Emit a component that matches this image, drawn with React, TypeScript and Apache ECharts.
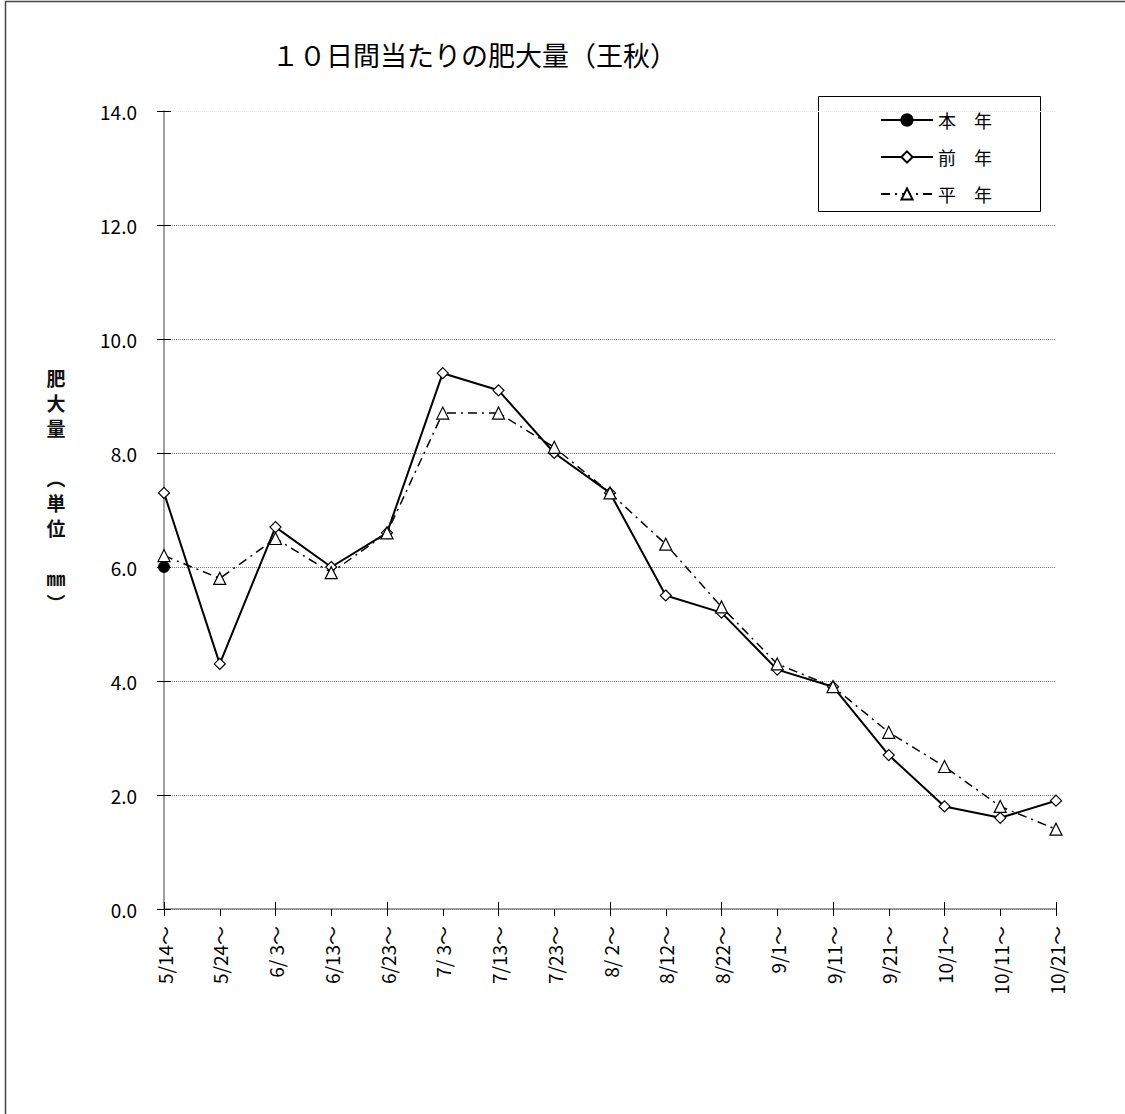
import React, { useEffect, useRef } from "react";
import * as echarts from "echarts";

const categories = [
  "5/14～", "5/24～", "6/ 3～", "6/13～", "6/23～", "7/ 3～", "7/13～", "7/23～",
  "8/ 2～", "8/12～", "8/22～", "9/1～", "9/11～", "9/21～", "10/1～", "10/11～", "10/21～",
];
const thisYear = [6.0];
const lastYear = [7.3, 4.3, 6.7, 6.0, 6.6, 9.4, 9.1, 8.0, 7.3, 5.5, 5.2, 4.2, 3.9, 2.7, 1.8, 1.6, 1.9];
const normalYear = [6.2, 5.8, 6.5, 5.9, 6.6, 8.7, 8.7, 8.1, 7.3, 6.4, 5.3, 4.3, 3.9, 3.1, 2.5, 1.8, 1.4];
const seriesNames = ["本　年", "前　年", "平　年"];
const titleText = "１０日間当たりの肥大量（王秋）";
const yAxisTitleChars = ["肥", "大", "量", "", "︵", "単", "位", "", "㎜", "︶"];

const FONT = "'Noto Sans CJK JP', 'Noto Sans', sans-serif";

export default function App() {
  const ref = useRef<HTMLDivElement>(null);
  useEffect(() => {
    document.body.style.margin = "0";
    const chart = echarts.init(ref.current!, null, { renderer: "svg" });
    const gridLineColors = ["#777", "#777", "#777", "#777", "#777", "#777", "#777", "#e6e6e6"];
    const yTitleTexts = yAxisTitleChars
      .map((ch, i) => ({ ch, i }))
      .filter((o) => o.ch !== "")
      .map((o) => ({
        type: "text",
        x: 56,
        y: 377 + o.i * 25,
        style: {
          text: o.ch,
          fontSize: 19,
          lineHeight: 22,
          fontWeight: "bold",
          fontFamily: FONT,
          fill: "#111",
          align: "center",
          verticalAlign: "middle",
        },
      }));
    chart.setOption({
      animation: false,
      backgroundColor: "#fff",
      textStyle: { fontFamily: FONT },
      grid: { left: 164, right: 69, top: 111, bottom: 205 },
      graphic: [
        {
          type: "rect",
          shape: { x: 5.5, y: 1.5, width: 1130, height: 1130 },
          style: { fill: "none", stroke: "#444", lineWidth: 1.5 },
          silent: true,
        },
        {
          type: "rect",
          shape: { x: 818.5, y: 96.5, width: 222, height: 115 },
          style: { fill: "#fff", stroke: "#000", lineWidth: 1 },
          z: 0,
          silent: true,
        },
        {
          type: "text",
          x: 272,
          y: 54,
          style: {
            text: titleText,
            fontSize: 27,
            fontFamily: FONT,
            fill: "#000",
            align: "left",
            verticalAlign: "middle",
          },
        },
        ...yTitleTexts,
      ],
      legend: {
        orient: "vertical",
        left: 875,
        top: 105,
        itemWidth: 52,
        itemHeight: 14,
        itemGap: 17,
        z: 10,
        textStyle: { fontSize: 18, lineHeight: 20, color: "#000", fontFamily: FONT },
        data: seriesNames,
      },
      xAxis: [
        {
          type: "category",
          data: categories,
          boundaryGap: false,
          axisLine: { lineStyle: { color: "#808080", width: 1.5 } },
          axisTick: { length: 7, lineStyle: { color: "#000", width: 1 } },
          axisLabel: { rotate: 90, margin: 17, fontSize: 19, color: "#000", fontFamily: FONT, interval: 0 },
          splitLine: { show: false },
        },
        {
          type: "category",
          data: categories,
          boundaryGap: false,
          position: "bottom",
          axisLine: { show: false },
          axisTick: { inside: true, length: 7, lineStyle: { color: "#000", width: 1 } },
          axisLabel: { show: false },
          splitLine: { show: false },
        },
      ],
      yAxis: [
        {
          type: "value",
          min: 0,
          max: 14,
          interval: 2,
          axisLine: { show: true, lineStyle: { color: "#808080", width: 1.5 } },
          axisTick: { show: true, length: 7, lineStyle: { color: "#000", width: 1 } },
          axisLabel: {
            margin: 27,
            fontSize: 19,
            color: "#000",
            fontFamily: FONT,
            formatter: (v: number) => v.toFixed(1),
          },
          splitLine: { show: true, lineStyle: { color: gridLineColors, width: 1, type: "dotted" } },
        },
        {
          type: "value",
          min: 0,
          max: 14,
          interval: 2,
          position: "left",
          axisLine: { show: false },
          axisTick: { show: true, inside: true, length: 7, lineStyle: { color: "#000", width: 1 } },
          axisLabel: { show: false },
          splitLine: { show: false },
        },
      ],
      series: [
        {
          name: seriesNames[0],
          type: "line",
          data: thisYear,
          symbol: "circle",
          symbolSize: 11,
          z: 5,
          lineStyle: { color: "#000", width: 2 },
          itemStyle: { color: "#000", borderColor: "#000", borderWidth: 1 },
        },
        {
          name: seriesNames[1],
          type: "line",
          data: lastYear,
          symbol: "diamond",
          symbolSize: 11,
          z: 3,
          lineStyle: { color: "#000", width: 2 },
          itemStyle: { color: "#fff", borderColor: "#000", borderWidth: 1.2 },
        },
        {
          name: seriesNames[2],
          type: "line",
          data: normalYear,
          symbol: "triangle",
          symbolSize: 12,
          z: 4,
          lineStyle: { color: "#000", width: 1.5, type: [9, 5, 2, 5] },
          itemStyle: { color: "#fff", borderColor: "#000", borderWidth: 1.2 },
        },
      ],
    });
    return () => chart.dispose();
  }, []);
  return <div ref={ref} style={{ width: 1125, height: 1114 }} />;
}
